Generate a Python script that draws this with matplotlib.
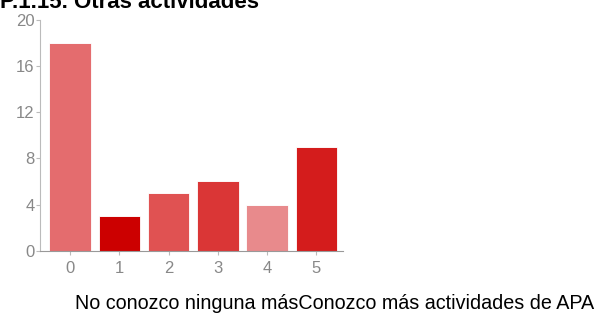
import matplotlib
matplotlib.use('Agg')
import matplotlib.pyplot as plt

plt.rcParams['font.family'] = ['Liberation Sans', 'DejaVu Sans']

categories = ['0', '1', '2', '3', '4', '5']
counts = [18, 3, 5, 6, 4, 9]
colors = ['#e46c6e', '#cc0000', '#e05252', '#da3636', '#e88a8c', '#d41c1c']
yticks = [0, 4, 8, 12, 16, 20]

W, H = 603, 318
fig = plt.figure(figsize=(W / 100, H / 100), dpi=100)
ax = fig.add_axes([40 / W, (H - 250.7) / H, 303 / W, 230.7 / H])

x = list(range(len(categories)))
ax.bar(x, counts, width=0.84, color=colors, edgecolor='#ffffff', linewidth=0.6)
# light top edge on each bar
for xi, v in zip(x, counts):
    ax.plot([xi - 0.42, xi + 0.42], [v, v], color='white', alpha=0.5, lw=1.2)

ax.set_xlim(-0.61, 5.54)
ax.set_ylim(0, 20)
ax.set_yticks(yticks)
ax.set_xticks(x)
ax.set_xticklabels(categories)

for s in ['top', 'right']:
    ax.spines[s].set_visible(False)
ax.spines['left'].set_color('#bbbbbb')
ax.spines['bottom'].set_color('#999999')
ax.tick_params(axis='y', colors='#bbbbbb', labelcolor='#888888', length=3, width=0.8,
               labelsize=12, pad=1)
ax.tick_params(axis='x', colors='#bbbbbb', labelcolor='#888888', length=3, width=0.8,
               labelsize=12, pad=4.5)

fig.text(0, 1 - 8 / H, 'P.1.15. Otras actividades', fontsize=16, fontweight='bold',
         va='baseline', ha='left')
fig.text(75 / W, 1 - 309 / H, 'No conozco ninguna másConozco más actividades de APA',
         fontsize=14.2, va='baseline', ha='left', color='black')

fig.savefig('out.png', dpi=100)
